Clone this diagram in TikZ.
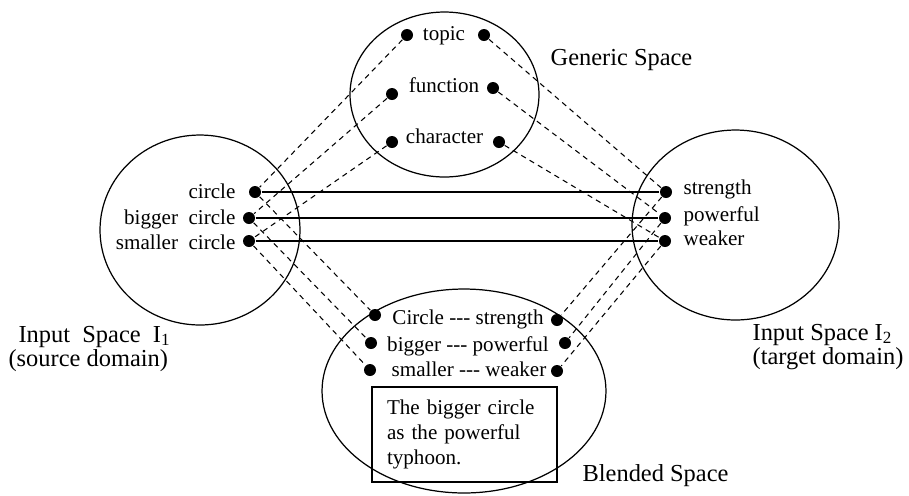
\documentclass[tikz,border=0pt]{standalone}
\usepackage{fontspec}
\setmainfont{Liberation Serif}
\usetikzlibrary{shapes.geometric}

\begin{document}
\begin{tikzpicture}[x=0.02cm,y=-0.02cm,line width=0.7pt]
		\tikzstyle{space}=[draw,shape=ellipse,inner sep=0pt]
		\tikzstyle{dot}=[fill,shape=circle,inner sep=0pt,minimum size=2.4mm]
		\tikzstyle{word}=[inner sep=0pt,font=\fontsize{12}{14.2}\selectfont]
		\tikzstyle{spacename}=[inner sep=0pt,font=\fontsize{13.9}{16}\selectfont]
		\tikzstyle{map}=[dash pattern=on 3pt off 2.5pt,line width=0.6pt]

		\useasboundingbox (0,0) rectangle (909,495);

		\node[space,minimum width=3.78cm,minimum height=3.3cm](generic) at (444.5,94.5){};
		\node[space,minimum width=4cm,minimum height=3.8cm](input1) at (200,230){};
		\node[space,minimum width=4.14cm,minimum height=3.8cm](input2) at (735.5,225){};
		\node[space,minimum width=5.68cm,minimum height=4.08cm](blend) at (464,391){};

		\node[dot](tpL) at (407,35){};
		\node[dot](tpR) at (484,35){};
		\node[dot](fnL) at (392,94){};
		\node[dot](fnR) at (493,88){};
		\node[dot](chL) at (392,142){};
		\node[dot](chR) at (499,142){};

		\node[dot](cir) at (255,192){};
		\node[dot](big) at (249,218){};
		\node[dot](sma) at (249,241){};

		\node[dot](str) at (666,192){};
		\node[dot](pow) at (665,218){};
		\node[dot](wea) at (665,241){};

		\node[dot](bcL) at (375,315){};
		\node[dot](bbL) at (371,343){};
		\node[dot](bsL) at (370,370){};
		\node[dot](bcR) at (557,320){};
		\node[dot](bbR) at (565,343){};
		\node[dot](bsR) at (557,371){};

		\node[word,anchor=base](topic) at (444,40){topic};
		\node[word,anchor=base](function) at (444,92){function};
		\node[word,anchor=base](character) at (444.5,143){character};

		\node[word,anchor=base east](circle) at (236,198){circle};
		\node[word,anchor=base east](bigger) at (236,224){bigger~ circle};
		\node[word,anchor=base east](smaller) at (236,249){smaller~ circle};

		\node[word,anchor=base west](strength) at (683,194){strength};
		\node[word,anchor=base west](powerful) at (683,221){powerful};
		\node[word,anchor=base west](weaker) at (683,245){weaker};

		\node[word,anchor=base](blendA) at (468,324){Circle -{}-{}- strength};
		\node[word,anchor=base](blendB) at (468,351){bigger -{}-{}- powerful};
		\node[word,anchor=base](blendC) at (469,376){smaller -{}-{}- weaker};

		\node[word,draw,align=left,text width=3.1cm,inner xsep=0.3cm,minimum height=1.9cm](note) at (464.5,434.5){The bigger circle\\as the powerful\\typhoon.};

		\node[spacename,anchor=base west](genericname) at (550,65){Generic Space};
		\node[spacename,anchor=base west](blendname) at (582,481){Blended Space};
		\node[spacename,anchor=base west](input1name) at (18,342){Input~ Space~ I\textsubscript{1}};
		\node[spacename,anchor=base west](input1dom) at (8,366){(source domain)};
		\node[spacename,anchor=base west](input2name) at (752,340){Input Space I\textsubscript{2}};
		\node[spacename,anchor=base west](input2dom) at (752,364){(target domain)};

		\draw (cir) -- (str);
		\draw (big) -- (pow);
		\draw (sma) -- (wea);

		\draw[map] (tpL) -- (cir);
		\draw[map] (fnL) -- (big);
		\draw[map] (chL) -- (sma);
		\draw[map] (tpR) -- (str);
		\draw[map] (fnR) -- (pow);
		\draw[map] (chR) -- (wea);

		\draw[map] (cir) -- (bcL);
		\draw[map] (big) -- (bbL);
		\draw[map] (sma) -- (bsL);
		\draw[map] (str) -- (bcR);
		\draw[map] (pow) -- (bbR);
		\draw[map] (wea) -- (bsR);
\end{tikzpicture}
\end{document}
